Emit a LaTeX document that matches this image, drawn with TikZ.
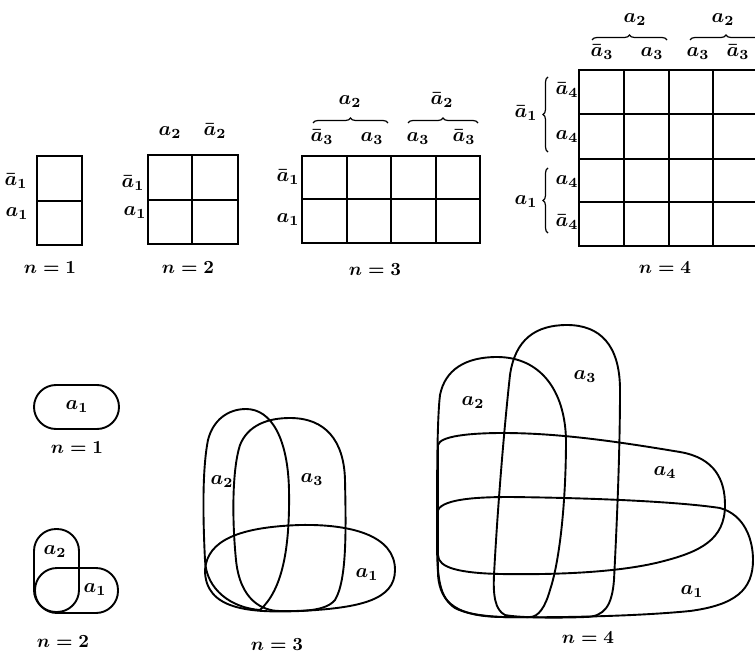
\documentclass[tikz,border=0pt]{standalone}
\usetikzlibrary{decorations.pathreplacing}
\begin{document}
\begin{tikzpicture}[x=1pt,y=-1pt,
  kgrid/.style={line width=1.7pt},
  vshape/.style={line width=1.9pt},
  brc/.style={line width=1.2pt,decorate,decoration={brace,amplitude=5pt}},
  lbl/.style={inner sep=0pt,scale=2.0,font=\boldmath},
  captxt/.style={inner sep=0pt,scale=1.85,font=\boldmath}]
\useasboundingbox (0,0) rectangle (755,658);
\begin{scope}
\clip (0,0) rectangle (755,658);
% ---------- Karnaugh maps ----------
% n=1
\draw[kgrid] (37,156) rectangle (82,245);
\draw[kgrid] (37,201) -- (82,201);
\node[lbl] (k1r1) at (16,181) {$\bar a_1$};
\node[lbl] (k1r2) at (17,214) {$a_1$};
\node[captxt] (k1n) at (50,268) {$n=1$};
% n=2
\draw[kgrid] (148,155) rectangle (238,244);
\draw[kgrid] (192,155) -- (192,244);
\draw[kgrid] (148,200) -- (238,200);
\node[lbl] (k2c1) at (170,133) {$a_2$};
\node[lbl] (k2c2) at (215,131) {$\bar a_2$};
\node[lbl] (k2r1) at (133,183) {$\bar a_1$};
\node[lbl] (k2r2) at (135,213) {$a_1$};
\node[captxt] (k2n) at (188,268) {$n=2$};
% n=3
\draw[kgrid] (302,156) rectangle (480,243);
\foreach \x in {347,391,436} \draw[kgrid] (\x,156) -- (\x,243);
\draw[kgrid] (302,199) -- (480,199);
\draw[brc] (313,123) -- (388,123);
\draw[brc] (408,123) -- (478,123);
\node[lbl] (k3g1) at (350,102) {$a_2$};
\node[lbl] (k3g2) at (442,100) {$\bar a_2$};
\node[lbl] (k3c1) at (322,137) {$\bar a_3$};
\node[lbl] (k3c2) at (372,139) {$a_3$};
\node[lbl] (k3c3) at (418,139) {$a_3$};
\node[lbl] (k3c4) at (464,137) {$\bar a_3$};
\node[lbl] (k3r1) at (288,177) {$\bar a_1$};
\node[lbl] (k3r2) at (288,220) {$a_1$};
\node[captxt] (k3n) at (375,270) {$n=3$};
% n=4
\draw[kgrid] (760,70) -- (579,70) -- (579,246) -- (760,246);
\foreach \x in {624,669,713} \draw[kgrid] (\x,70) -- (\x,246);
\foreach \y in {114,159,202} \draw[kgrid] (579,\y) -- (760,\y);
\draw[brc] (592,40) -- (667,40);
\draw[brc] (690,40) -- (762,40);
\draw[brc] (548,152) -- (548,77);
\draw[brc] (548,233) -- (548,168);
\node[lbl] (k4g1) at (635,20) {$a_2$};
\node[lbl] (k4g2) at (723,20) {$a_2$};
\node[lbl] (k4c1) at (602,52) {$\bar a_3$};
\node[lbl] (k4c2) at (652,54) {$a_3$};
\node[lbl] (k4c3) at (698,54) {$a_3$};
\node[lbl] (k4c4) at (738,52) {$\bar a_3$};
\node[lbl] (k4r1) at (567,90) {$\bar a_4$};
\node[lbl] (k4r2) at (567,137) {$a_4$};
\node[lbl] (k4r3) at (567,182) {$a_4$};
\node[lbl] (k4r4) at (567,222) {$\bar a_4$};
\node[lbl] (k4g3) at (526,113) {$\bar a_1$};
\node[lbl] (k4g4) at (526,202) {$a_1$};
\node[captxt] (k4n) at (665,268) {$n=4$};
% ---------- Venn diagrams ----------
% n=1
\draw[vshape,rounded corners=22pt] (34,385) rectangle (119,429);
\node[lbl] (v1a) at (77,407) {$a_1$};
\node[captxt] (v1n) at (77,448) {$n=1$};
% n=2
\draw[vshape,rounded corners=22pt] (34,529) rectangle (79,612);
\draw[vshape,rounded corners=22pt] (35,568) rectangle (118,613);
\node[lbl] (v2b) at (55,552) {$a_2$};
\node[lbl] (v2a) at (95,590) {$a_1$};
\node[captxt] (v2n) at (63,642) {$n=2$};
% n=3
\draw[vshape] (246,409) .. controls (272,409) and (288,440) .. (289,490)
  .. controls (290,550) and (282,590) .. (260,610)
  .. controls (232,608) and (206,590) .. (205,560)
  .. controls (203,520) and (202,470) .. (208,440)
  .. controls (213,420) and (228,409) .. (246,409) -- cycle;
\draw[vshape] (290,418) .. controls (325,418) and (344,440) .. (345,480)
  .. controls (346,530) and (347,580) .. (335,600)
  .. controls (325,612) and (300,611) .. (280,611)
  .. controls (262,611) and (240,600) .. (236,560)
  .. controls (232,520) and (232,470) .. (240,445)
  .. controls (248,425) and (268,418) .. (290,418) -- cycle;
\draw[vshape] (205,570) .. controls (207,540) and (240,527) .. (300,525)
  .. controls (350,524) and (395,535) .. (395,570)
  .. controls (395,600) and (360,608) .. (300,611)
  .. controls (250,613) and (205,610) .. (205,570) -- cycle;
\node[lbl] (v3b) at (222,482) {$a_2$};
\node[lbl] (v3c) at (312,480) {$a_3$};
\node[lbl] (v3a) at (367,575) {$a_1$};
\node[captxt] (v3n) at (277,645) {$n=3$};
% n=4
\draw[vshape] (497,357) .. controls (540,357) and (565,390) .. (566,440)
  .. controls (566,500) and (560,560) .. (550,590)
  .. controls (545,608) and (538,617) .. (530,617)
  .. controls (500,618) and (470,616) .. (455,608)
  .. controls (440,598) and (437,580) .. (437,540)
  .. controls (437,480) and (437,420) .. (440,395)
  .. controls (445,370) and (465,357) .. (497,357) -- cycle;
\draw[vshape] (567,325) .. controls (600,325) and (620,345) .. (620,390)
  .. controls (620,460) and (616,540) .. (614,580)
  .. controls (612,605) and (605,617) .. (585,617)
  .. controls (560,618) and (520,618) .. (505,615)
  .. controls (495,610) and (493,595) .. (494,575)
  .. controls (498,500) and (505,420) .. (510,375)
  .. controls (515,340) and (535,325) .. (567,325) -- cycle;
\draw[vshape] (438,445) .. controls (440,436) and (470,433) .. (503,433)
  .. controls (560,433) and (620,442) .. (680,452)
  .. controls (715,458) and (725,480) .. (725,505)
  .. controls (725,540) and (700,552) .. (660,562)
  .. controls (620,572) and (560,575) .. (500,574)
  .. controls (460,573) and (438,568) .. (438,555) -- cycle;
\draw[vshape] (437,512) .. controls (440,500) and (470,497) .. (510,497)
  .. controls (600,498) and (680,502) .. (720,508)
  .. controls (745,515) and (753,540) .. (753,560)
  .. controls (753,590) and (735,605) .. (690,611)
  .. controls (640,616) and (560,618) .. (500,617)
  .. controls (460,616) and (440,605) .. (438,575) -- cycle;
\node[lbl] (v4b) at (473,403) {$a_2$};
\node[lbl] (v4c) at (585,377) {$a_3$};
\node[lbl] (v4d) at (665,473) {$a_4$};
\node[lbl] (v4a) at (692,592) {$a_1$};
\node[captxt] (v4n) at (588,638) {$n=4$};
\end{scope}
\end{tikzpicture}
\end{document}
